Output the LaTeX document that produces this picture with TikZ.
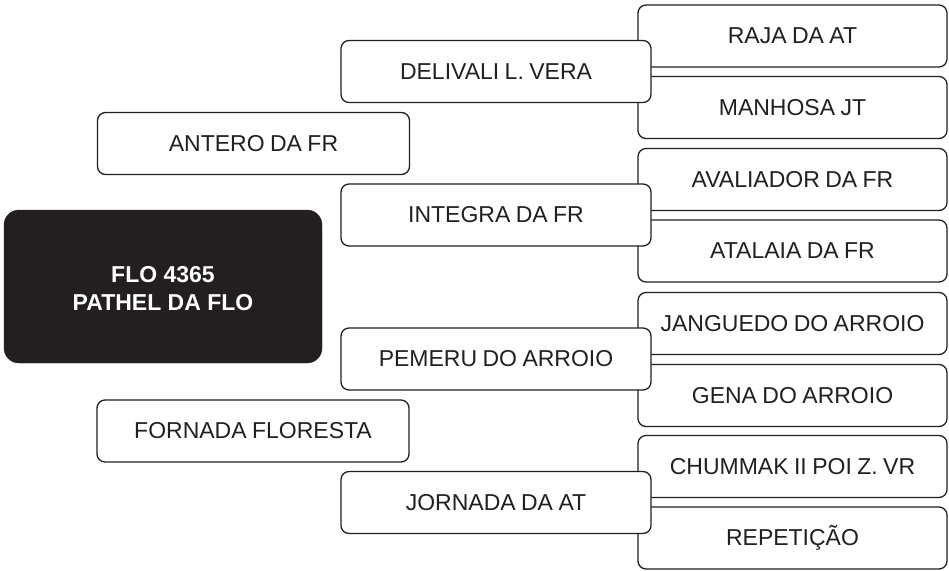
\documentclass[tikz,border=0pt]{standalone}
\usepackage{fontspec}
\setmainfont[WordSpace=0.85]{Liberation Sans}
\newfontfamily\darkfont{Liberation Sans}
\definecolor{ink}{HTML}{231F20}
\definecolor{txt}{HTML}{231F20}
\tikzset{
  box/.style={draw=ink, line width=1.3pt, rounded corners=8pt, fill=white,
    minimum height=62pt, inner sep=0pt, font=\fontsize{23}{26}\selectfont, text=txt},
  rbox/.style={box, minimum width=309pt},
  mbox/.style={box, minimum width=310pt},
  lbox/.style={box, minimum width=312pt},
  darkbox/.style={fill=ink, draw=ink, rounded corners=15pt, minimum width=318pt,
    minimum height=153pt, inner sep=0pt},
  darktext/.style={text=white, align=center, font=\darkfont\fontsize{23}{28}\selectfont\bfseries}
}
\begin{document}
\begin{tikzpicture}[x=1pt,y=-1pt]
\useasboundingbox (0,0) rectangle (949,570);
% right column
\node[rbox] (raja) at (792.5,36) {RAJA DA AT};
\node[rbox] (manh) at (792.5,107.5) {MANHOSA JT};
\node[rbox] (aval) at (792.5,179.5) {AVALIADOR DA FR};
\node[rbox] (atal) at (792.5,251) {ATALAIA DA FR};
\node[rbox] (jang) at (792.5,323.5) {JANGUEDO DO ARROIO};
\node[rbox] (gena) at (792.5,395.5) {GENA DO ARROIO};
\node[rbox] (chum) at (792.5,466.5) {CHUMMAK II POI Z. VR};
\node[rbox] (repe) at (792.5,538) {REPETIÇÃO};
% middle column
\node[mbox] (deli) at (496,71.5) {DELIVALI L. VERA};
\node[mbox] (inte) at (496,215) {INTEGRA DA FR};
\node[mbox] (peme) at (496,359) {PEMERU DO ARROIO};
\node[mbox] (jorn) at (496,502.5) {JORNADA DA AT};
% left column
\node[lbox] (ante) at (253.5,143.5) {ANTERO DA FR};
\node[lbox] (forn) at (253,431) {FORNADA FLORESTA};
% main
\node[darkbox] (flo) at (163,286.5) {};
\node[darktext] (flot) at (163,289) {FLO 4365\\PATHEL DA FLO};
\end{tikzpicture}
\end{document}
